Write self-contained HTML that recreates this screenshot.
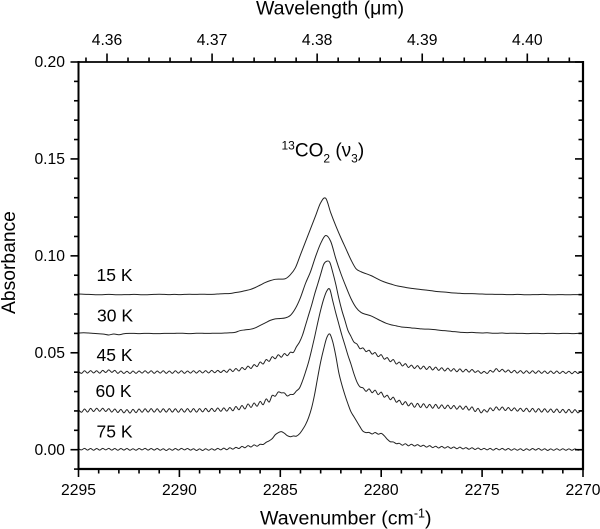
<!DOCTYPE html>
<html lang="en">
<head>
<meta charset="utf-8">
<title>13CO2 absorbance spectra</title>
<style>
html,body{margin:0;padding:0;background:#fff;width:600px;height:529px;overflow:hidden}
svg{display:block}
text{font-family:"Liberation Sans",sans-serif;fill:#000}
</style>
</head>
<body>
<svg id="chart" xmlns="http://www.w3.org/2000/svg" width="600" height="529" viewBox="0 0 600 529">
  <rect x="0" y="0" width="600" height="529" fill="#fff"/>
  <g id="curves"></g>
  <g id="axes"></g>
  <text x="256" y="14.5" font-size="19.5">Wavelength (μm)</text>
  <text x="260" y="524.5" font-size="19.6">Wavenumber (cm<tspan font-size="12.5" dy="-7">-1</tspan><tspan dy="7">)</tspan></text>
  <text transform="translate(15,314) rotate(-90)" font-size="19.3">Absorbance</text>
  <text x="281.5" y="156.5" font-size="19"><tspan font-size="12" dy="-7">13</tspan><tspan dy="7">CO</tspan><tspan font-size="12" dy="6">2</tspan><tspan dy="-6"> (ν</tspan><tspan font-size="12" dy="6">3</tspan><tspan dy="-6">)</tspan></text>
  <text x="96.5" y="281" font-size="17.5">15 K</text>
  <text x="97" y="321.5" font-size="17.5">30 K</text>
  <text x="96.5" y="361" font-size="17.5">45 K</text>
  <text x="95.5" y="397" font-size="17.5">60 K</text>
  <text x="96.5" y="437.5" font-size="17.5">75 K</text>
</svg>
<script>
const wavenumberMajorTicks = [2295, 2290, 2285, 2280, 2275, 2270];
const wavenumberMinorTicks = [2294, 2293, 2292, 2291, 2289, 2288, 2287, 2286, 2284, 2283, 2282, 2281, 2279, 2278, 2277, 2276, 2274, 2273, 2272, 2271];
const wavelengthMajorTicks = ["4.36", "4.37", "4.38", "4.39", "4.40"];
const wavelengthMinorTicks = [4.358, 4.362, 4.364, 4.366, 4.368, 4.372, 4.374, 4.376, 4.378, 4.382, 4.384, 4.386, 4.388, 4.392, 4.394, 4.396, 4.398, 4.402, 4.404];
const absorbanceMajorTicks = ["0.00", "0.05", "0.10", "0.15", "0.20"];
const absorbanceMinorTicks = [-0.01, 0.01, 0.02, 0.03, 0.04, 0.06, 0.07, 0.08, 0.09, 0.11, 0.12, 0.13, 0.14, 0.16, 0.17, 0.18, 0.19];

const smoothStart = 2295;
const smoothStep = 0.25;
const fineStart = 2295;
const fineStep = 0.15;

const abs15K = [
.0803,.0802,.0801,.0800,.0799,.0800,.0801,.0800,.0799,.0800,
.0800,.0801,.0800,.0799,.0800,.0801,.0802,.0801,.0800,.0801,
.0800,.0801,.0802,.0801,.0802,.0802,.0801,.0802,.0804,
.0805,.0806,.0810,.0814,.0820,.0826,.0836,.0849,.0862,.0872,.0879,.0880,.0882,.0903,.0939,.1006,.1073,.1140,.1207,.1274,.1297,
.1222,.1155,.1094,.1037,.0980,.0934,.0918,.0908,.0898,.0885,.0872,.0862,.0854,.0846,.0841,.0836,.0832,.0829,.0826,.0823,.0820,.0816,.0814,.0812,.0809,.0808,
.0806,.0805,.0805,.0804,.0803,.0802,.0802,.0801,.0801,.0800,.0800,.0801,.0800,.0799,.0800,.0800,.0801,.0800,.0799,.0800,.0800,.0799,.0800,.0800,.0799];

const abs30K = [
.0602,.0603,.0602,.0600,.0598,.0596,.0592,.0597,.0593,.0598,
.0600,.0600,.0599,.0600,.0600,.0599,.0599,.0600,.0600,.0600,
.0601,.0600,.0599,.0600,.0601,.0600,.0600,.0601,.0601,.0602,.0603,
.0605,.0614,.0618,.0621,.0628,.0641,.0654,.0667,.0675,.0677,.0680,.0693,.0729,.0785,.0858,.0919,.0997,.1064,.1105,
.1074,.0986,.0909,.0842,.0780,.0734,.0708,.0698,.0690,.0677,.0664,.0652,.0644,.0639,.0633,.0631,.0628,.0626,.0623,.0622,.0621,.0618,.0615,.0613,.0610,.0608,
.0605,.0604,.0605,.0603,.0602,.0603,.0601,.0601,.0602,.0600,.0601,.0600,.0600,.0599,.0600,.0600,.0599,.0600,.0600,.0599,.0600,.0600,.0599,.0600,.0600];

const abs45K = [
.0404,.0394,.0407,.0395,.0408,.0396,.0407,.0395,.0409,.0398,
.0412,.0399,.0409,.0394,.0406,.0393,.0405,.0393,.0406,.0394,
.0406,.0395,.0407,.0395,.0407,.0394,.0406,.0395,.0407,.0394,
.0406,.0394,.0407,.0395,.0407,.0394,.0406,.0395,.0407,.0395,
.0408,.0396,.0408,.0396,.0409,.0397,.0409,.0398,.0410,.0399,
.0416,.0403,.0419,.0406,.0424,.0413,.0431,.0419,.0439,.0429,
.0452,.0442,.0465,.0456,.0480,.0469,.0490,.0477,.0496,.0485,
.0503,.0502,.0531,.0555,.0591,.0642,.0694,.0745,.0802,.0853,
.0905,.0956,.0972,.0967,.0915,.0853,.0781,.0719,.0668,.0616,
.0585,.0555,.0545,.0521,.0525,.0506,.0513,.0493,.0501,.0480,
.0490,.0467,.0475,.0454,.0465,.0442,.0452,.0432,.0444,.0424,
.0436,.0419,.0434,.0416,.0431,.0414,.0429,.0411,.0426,.0409,
.0423,.0406,.0421,.0405,.0418,.0402,.0417,.0401,.0415,.0400,
.0414,.0399,.0407,.0394,.0404,.0393,.0409,.0400,.0418,.0403,
.0415,.0400,.0411,.0397,.0409,.0395,.0408,.0394,.0407,.0394,
.0407,.0394,.0407,.0394,.0406,.0393,.0406,.0393,.0406,.0393,
.0405,.0393,.0405,.0392,.0404,.0393,.0402,.0397];

const abs60K = [
.0207,.0193,.0210,.0194,.0213,.0197,.0214,.0198,.0214,.0197,
.0212,.0194,.0210,.0192,.0208,.0190,.0207,.0189,.0208,.0191,
.0210,.0193,.0211,.0194,.0212,.0194,.0211,.0193,.0211,.0194,
.0212,.0194,.0211,.0193,.0211,.0194,.0212,.0194,.0212,.0194,
.0212,.0195,.0213,.0196,.0213,.0197,.0215,.0198,.0216,.0199,
.0218,.0201,.0223,.0206,.0228,.0210,.0236,.0218,.0241,.0224,
.0249,.0232,.0262,.0246,.0280,.0276,.0298,.0293,.0293,.0277,
.0285,.0286,.0303,.0318,.0355,.0401,.0452,.0514,.0581,.0653,
.0720,.0777,.0818,.0828,.0767,.0705,.0648,.0591,.0540,.0488,
.0442,.0391,.0349,.0324,.0319,.0301,.0314,.0294,.0307,.0284,
.0297,.0271,.0281,.0258,.0271,.0245,.0255,.0232,.0248,.0226,
.0241,.0219,.0239,.0218,.0237,.0216,.0234,.0214,.0234,.0213,
.0231,.0212,.0230,.0211,.0228,.0209,.0226,.0208,.0225,.0204,
.0221,.0197,.0213,.0190,.0207,.0194,.0216,.0201,.0221,.0204,
.0220,.0202,.0218,.0201,.0216,.0199,.0214,.0197,.0214,.0195,
.0213,.0194,.0212,.0194,.0211,.0193,.0210,.0192,.0210,.0191,
.0208,.0190,.0208,.0190,.0207,.0190,.0202,.0196];

const abs75K = [
.0005,-.0001,.0007,-.0002,.0006,-.0003,.0006,-.0002,.0007,-.0001,
.0007,-.0002,.0006,-.0003,.0006,-.0002,.0006,-.0003,.0005,-.0003,
.0006,-.0001,.0007,-.0002,.0006,-.0002,.0006,-.0003,.0005,-.0004,
.0005,-.0003,.0006,-.0002,.0007,-.0001,.0006,-.0002,.0005,-.0004,
.0004,-.0004,.0005,-.0003,.0005,-.0002,.0007,-.0001,.0008,.0000,
.0010,.0003,.0012,.0006,.0017,.0010,.0021,.0014,.0025,.0018,
.0028,.0027,.0038,.0046,.0057,.0077,.0088,.0093,.0085,.0072,
.0067,.0071,.0070,.0082,.0103,.0129,.0165,.0215,.0285,.0371,
.0453,.0520,.0577,.0597,.0556,.0484,.0397,.0335,.0283,.0237,
.0196,.0170,.0144,.0118,.0095,.0088,.0089,.0081,.0089,.0080,
.0084,.0072,.0054,.0041,.0040,.0031,.0033,.0023,.0031,.0020,
.0028,.0019,.0026,.0017,.0023,.0013,.0021,.0011,.0018,.0009,
.0017,.0008,.0016,.0007,.0014,.0005,.0013,.0004,.0011,.0002,
.0010,.0001,.0009,.0000,.0007,-.0001,.0007,-.0002,.0007,-.0001,
.0007,-.0002,.0006,-.0003,.0005,-.0003,.0005,-.0004,.0005,-.0003,
.0006,-.0002,.0006,-.0003,.0005,-.0004,.0004,-.0003,.0005,-.0003,
.0005,-.0003,.0004,-.0003,.0004,-.0003,.0001,.0000];

const NS = 'http://www.w3.org/2000/svg';
const curvesGroup = document.getElementById('curves');
const axesGroup = document.getElementById('axes');

const plotLeft = 78.5, plotRight = 583, plotTop = 62, plotBottom = 469;

function xFromWavenumber(w) { return plotLeft + (2295 - w) / 25 * (plotRight - plotLeft); }
function xFromWavelength(l) { return 107 + (l - 4.36) / 0.04 * 420.3; }
function yFromAbsorbance(a) { return 449.7 - a / 0.2 * (449.7 - plotTop); }

function drawCurve(values, start, step, name) {
  const p = values.map(function (v, i) {
    return [xFromWavenumber(start - step * i), yFromAbsorbance(v)];
  });
  let d = 'M' + p[0][0].toFixed(2) + ' ' + p[0][1].toFixed(2);
  for (let i = 0; i < p.length - 1; i++) {
    const a = p[Math.max(i - 1, 0)], b = p[i], c = p[i + 1], e = p[Math.min(i + 2, p.length - 1)];
    d += 'C' + (b[0] + (c[0] - a[0]) / 6).toFixed(2) + ' ' + (b[1] + (c[1] - a[1]) / 6).toFixed(2) + ' ' +
      (c[0] - (e[0] - b[0]) / 6).toFixed(2) + ' ' + (c[1] - (e[1] - b[1]) / 6).toFixed(2) + ' ' +
      c[0].toFixed(2) + ' ' + c[1].toFixed(2);
  }
  const el = document.createElementNS(NS, 'path');
  el.setAttribute('d', d);
  el.setAttribute('fill', 'none');
  el.setAttribute('stroke', '#222');
  el.setAttribute('stroke-width', '1');
  el.setAttribute('stroke-linejoin', 'round');
  
  
  curvesGroup.appendChild(el);
}
drawCurve(abs15K, smoothStart, smoothStep, 'curve-15k');
drawCurve(abs30K, smoothStart, smoothStep, 'curve-30k');
drawCurve(abs45K, fineStart, fineStep, 'curve-45k');
drawCurve(abs60K, fineStart, fineStep, 'curve-60k');
drawCurve(abs75K, fineStart, fineStep, 'curve-75k');

function drawLine(x1, y1, x2, y2, width, name) {
  const el = document.createElementNS(NS, 'line');
  el.setAttribute('x1', x1);
  el.setAttribute('y1', y1);
  el.setAttribute('x2', x2);
  el.setAttribute('y2', y2);
  el.setAttribute('stroke', '#000');
  el.setAttribute('stroke-width', width);
  
  
  axesGroup.appendChild(el);
}
function drawLabel(x, y, anchor, str, name) {
  const el = document.createElementNS(NS, 'text');
  el.setAttribute('x', x);
  el.setAttribute('y', y);
  el.setAttribute('text-anchor', anchor);
  el.setAttribute('font-size', '15.7');
  el.textContent = str;
  
  
  axesGroup.appendChild(el);
}

drawLine(plotLeft, plotTop - 1, plotLeft, plotBottom + 1, 2, 'left-axis-line');
drawLine(plotRight, plotTop - 1, plotRight, plotBottom + 1, 2.2, 'right-axis-line');
drawLine(plotLeft, plotTop, plotRight + 1, plotTop, 1.8, 'top-axis-line');
drawLine(plotLeft, plotBottom, plotRight + 1, plotBottom, 2.2, 'bottom-axis-line');

wavenumberMajorTicks.forEach(function (w) {
  const x = xFromWavenumber(w);
  drawLine(x, plotBottom, x, plotBottom + 8, 1.6, 'x-major-tick');
  drawLabel(x, 495, 'middle', String(w), 'x-tick-label');
});
wavenumberMinorTicks.forEach(function (w) {
  const x = xFromWavenumber(w);
  drawLine(x, plotBottom, x, plotBottom + 4.5, 1.6, 'x-minor-tick');
});
wavelengthMajorTicks.forEach(function (l) {
  const x = xFromWavelength(parseFloat(l));
  drawLine(x, plotTop, x, plotTop - 8.5, 1.6, 'top-major-tick');
  drawLabel(x, 45, 'middle', l, 'top-tick-label');
});
wavelengthMinorTicks.forEach(function (l) {
  const x = xFromWavelength(l);
  drawLine(x, plotTop, x, plotTop - 4.5, 1.6, 'top-minor-tick');
});
absorbanceMajorTicks.forEach(function (a) {
  const y = yFromAbsorbance(parseFloat(a));
  drawLine(plotLeft, y, plotLeft - 8, y, 1.6, 'y-major-tick');
  drawLine(plotRight, y, plotRight - 8, y, 1.6, 'right-major-tick');
  drawLabel(65, y + 5.2, 'end', a, 'y-tick-label');
});
absorbanceMinorTicks.forEach(function (a) {
  const y = yFromAbsorbance(a);
  drawLine(plotLeft, y, plotLeft - 4.5, y, 1.6, 'y-minor-tick');
  drawLine(plotRight, y, plotRight - 4.5, y, 1.6, 'right-minor-tick');
});
</script>
</body>
</html>
